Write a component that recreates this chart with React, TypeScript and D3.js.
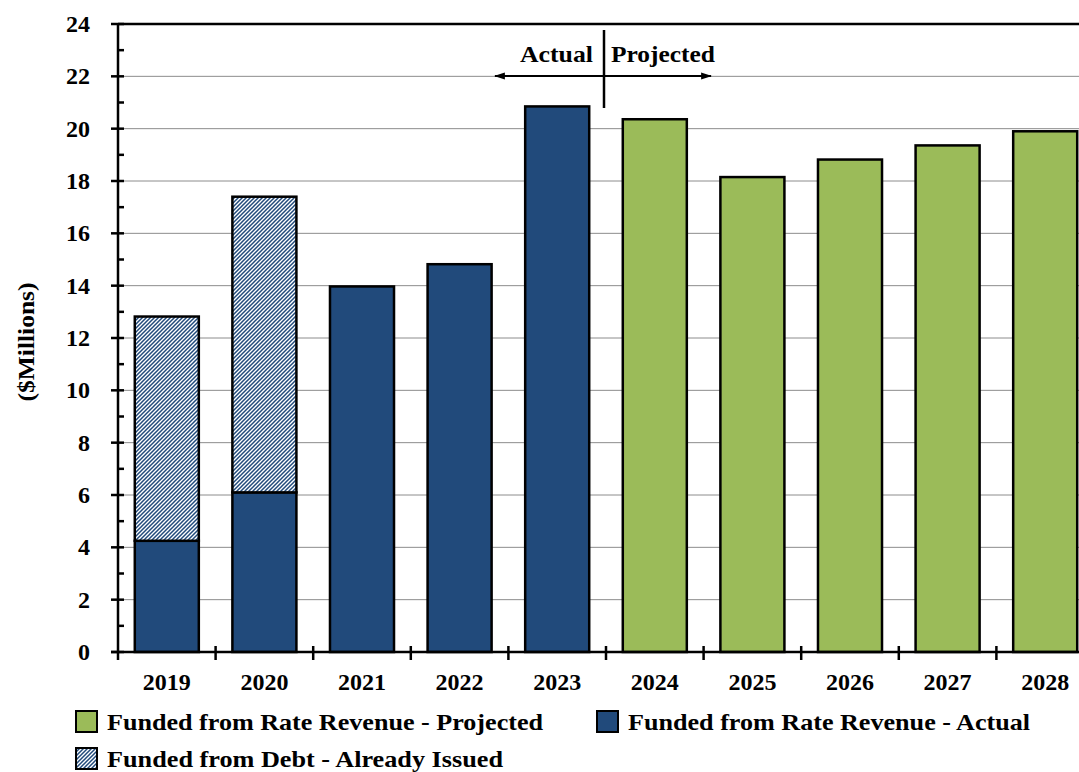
import React from "react";
import * as d3 from "d3";

const years = ["2019", "2020", "2021", "2022", "2023", "2024", "2025", "2026", "2027", "2028"];
const actualRevenue = [4.25, 6.1, 13.97, 14.82, 20.85, 0, 0, 0, 0, 0];
const projectedRevenue = [0, 0, 0, 0, 0, 20.36, 18.15, 18.82, 19.36, 19.9];
const debtIssued = [8.57, 11.3, 0, 0, 0, 0, 0, 0, 0, 0];
const yTicks = [0, 2, 4, 6, 8, 10, 12, 14, 16, 18, 20, 22, 24];
const yMinorTicks = [1, 3, 5, 7, 9, 11, 13, 15, 17, 19, 21, 23];
const legendItems = [
  { key: "proj", label: "Funded from Rate Revenue - Projected" },
  { key: "act", label: "Funded from Rate Revenue - Actual" },
  { key: "debt", label: "Funded from Debt - Already Issued" },
];

const BLUE = "#214A7B";
const GREEN = "#9BBB59";
const FONT = "'Liberation Serif', 'DejaVu Serif', serif";

export default function App() {
  const W = 1079, H = 772;
  const x0 = 118, step = 97.6;
  const x = d3.scaleBand<string>().domain(years).range([x0, x0 + step * years.length]).paddingInner(0.344).paddingOuter(0.172);
  const y = d3.scaleLinear().domain([0, 24]).range([652, 24]);
  const bw = x.bandwidth();

  const fills: Record<string, string> = { proj: GREEN, act: BLUE, debt: "url(#hatch)" };
  const legendPos: Record<string, { x: number; y: number; len: number }> = {
    proj: { x: 76, y: 711, len: 436 },
    act: { x: 597, y: 711, len: 402 },
    debt: { x: 76, y: 748, len: 396 },
  };

  return (
    <svg width={W} height={H} style={{ position: "absolute", left: 0, top: 0, background: "#fff" }} fontFamily={FONT}>
      <defs>
        <pattern id="hatch" patternUnits="userSpaceOnUse" width="4" height="4">
          <rect width="4" height="4" fill="#ffffff" />
          <path d="M-1,1 l2,-2 M0,4 l4,-4 M3,5 l2,-2" stroke={BLUE} strokeWidth="1.5" />
        </pattern>
        <marker id="arrow" viewBox="0 0 10 10" refX="9" refY="5" markerWidth="11" markerHeight="9" orient="auto-start-reverse" markerUnits="userSpaceOnUse" preserveAspectRatio="none">
          <path d="M0,1 L10,5 L0,9 Z" fill="#000" />
        </marker>
      </defs>

      {/* gridlines */}
      {yTicks.filter(t => t > 0 && t < 24).map(t => (
        <line key={"g" + t} x1={x0} x2={W} y1={y(t)} y2={y(t)} stroke="#8c8c8c" strokeWidth={1} />
      ))}
      <line x1={x0} x2={W} y1={y(24)} y2={y(24)} stroke="#000" strokeWidth={2.5} />

      {/* bars */}
      {years.map((yr, i) => {
        const bx = x(yr)!;
        const els: JSX.Element[] = [];
        if (actualRevenue[i] > 0) {
          els.push(<rect key="a" x={bx} y={y(actualRevenue[i])} width={bw} height={y(0) - y(actualRevenue[i])} fill={BLUE} stroke="#000" strokeWidth={2.5} />);
        }
        if (debtIssued[i] > 0) {
          const base = actualRevenue[i];
          const top = base + debtIssued[i];
          els.push(<rect key="d" x={bx} y={y(top)} width={bw} height={y(base) - y(top)} fill="url(#hatch)" stroke="#000" strokeWidth={2.5} />);
        }
        if (projectedRevenue[i] > 0) {
          els.push(<rect key="p" x={bx} y={y(projectedRevenue[i])} width={bw} height={y(0) - y(projectedRevenue[i])} fill={GREEN} stroke="#000" strokeWidth={2.5} />);
        }
        return <g key={yr}>{els}</g>;
      })}

      {/* y axis */}
      <line x1={x0} x2={x0} y1={y(24) - 1} y2={y(0) + 8} stroke="#000" strokeWidth={2.5} />
      {yTicks.map(t => (
        <g key={"t" + t}>
          <line x1={x0 - 7} x2={x0 + 6} y1={y(t)} y2={y(t)} stroke="#000" strokeWidth={2.5} />
          <text x={90} y={y(t)} dy="0.33em" textAnchor="end" fontSize={24} fontWeight="bold">{t}</text>
        </g>
      ))}
      {yMinorTicks.map(t => (
        <line key={"m" + t} x1={x0} x2={x0 + 6} y1={y(t)} y2={y(t)} stroke="#000" strokeWidth={2.5} />
      ))}
      <text transform={`translate(26,342) rotate(-90)`} textAnchor="middle" dy="0.35em" fontSize={23} fontWeight="bold" textLength={119} lengthAdjust="spacingAndGlyphs">($Millions)</text>

      {/* x axis */}
      <line x1={x0 - 7} x2={W} y1={y(0)} y2={y(0)} stroke="#000" strokeWidth={2.5} />
      {d3.range(1, years.length + 1).map(i => (
        <line key={"xt" + i} x1={x0 + i * step} x2={x0 + i * step} y1={y(0) - 6} y2={y(0) + 8} stroke="#000" strokeWidth={2.5} />
      ))}
      {years.map(yr => (
        <text key={"xl" + yr} x={x(yr)! + bw / 2} y={682} dy="0.33em" textAnchor="middle" fontSize={24} fontWeight="bold">{yr}</text>
      ))}

      {/* annotation */}
      <line x1={604} x2={604} y1={30} y2={108} stroke="#000" strokeWidth={2.5} />
      <line x1={495} x2={711} y1={76} y2={76} stroke="#000" strokeWidth={2} markerStart="url(#arrow)" markerEnd="url(#arrow)" />
      <text x={520} y={62} fontSize={23} fontWeight="bold" textLength={73} lengthAdjust="spacingAndGlyphs">Actual</text>
      <text x={611} y={62} fontSize={23} fontWeight="bold" textLength={104} lengthAdjust="spacingAndGlyphs">Projected</text>

      {/* legend */}
      {legendItems.map(it => {
        const p = legendPos[it.key];
        return (
          <g key={it.key}>
            <rect x={p.x} y={p.y} width={21} height={21} fill={fills[it.key]} stroke="#000" strokeWidth={2} />
            <text x={p.x + 31} y={p.y + 11} dy="0.35em" fontSize={22.5} fontWeight="bold" textLength={p.len} lengthAdjust="spacingAndGlyphs">{it.label}</text>
          </g>
        );
      })}
    </svg>
  );
}
